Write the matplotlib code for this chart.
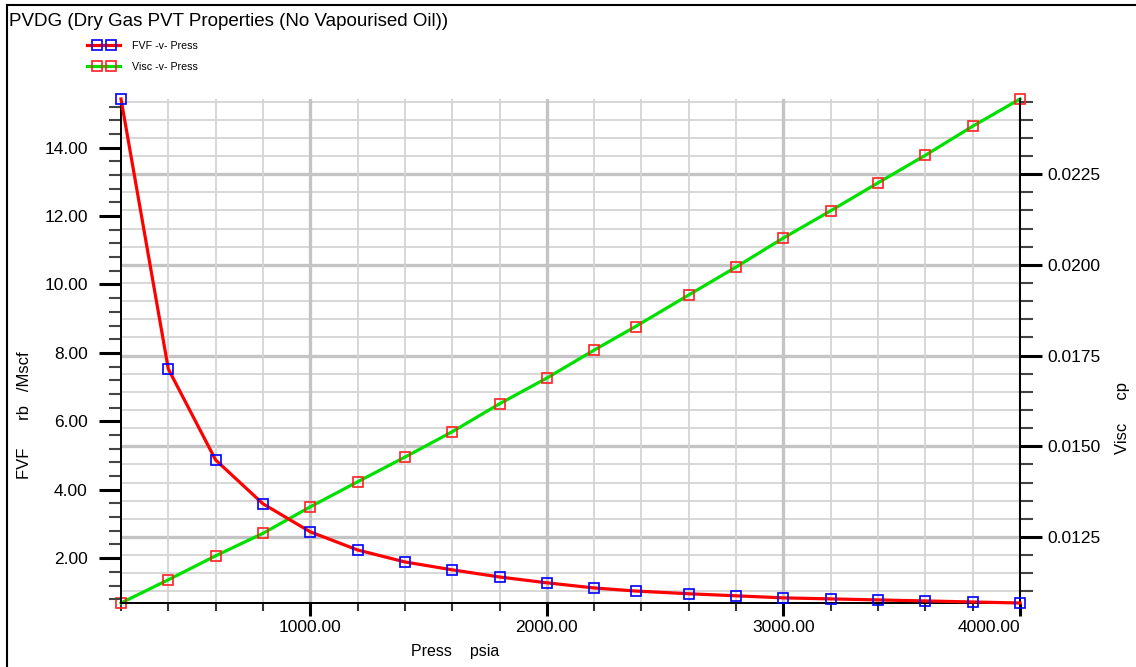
import numpy as np
import matplotlib
matplotlib.use('Agg')
import matplotlib.pyplot as plt
from matplotlib.lines import Line2D
from matplotlib.legend_handler import HandlerLine2D, HandlerTuple

plt.rcParams['font.family'] = ['Liberation Sans', 'DejaVu Sans']

# data
press = [200, 400, 600, 800, 1000, 1200, 1400, 1600, 1800, 2000,
         2200, 2375, 2600, 2800, 3000, 3200, 3400, 3600, 3800, 4000]
fvf = [15.42, 7.53, 4.87, 3.59, 2.77, 2.24, 1.89, 1.66, 1.45, 1.28,
       1.13, 1.04, 0.96, 0.90, 0.84, 0.81, 0.78, 0.75, 0.72, 0.69]
visc = [0.01068, 0.01132, 0.01198, 0.01260, 0.01333, 0.01402, 0.01470, 0.01540, 0.01617, 0.01688,
        0.01765, 0.01830, 0.01917, 0.01994, 0.02074, 0.02149, 0.02226, 0.02302, 0.02382, 0.02457]

x_major = [1000, 2000, 3000, 4000]
x_labels = ['1000.00', '2000.00', '3000.00', '4000.00']
fvf_major = [2, 4, 6, 8, 10, 12, 14]
fvf_labels = ['2.00', '4.00', '6.00', '8.00', '10.00', '12.00', '14.00']
visc_major = [0.0125, 0.0150, 0.0175, 0.0200, 0.0225]
visc_labels = ['0.0125', '0.0150', '0.0175', '0.0200', '0.0225']

fvf_style = dict(color='#ff0000', mec='#0000ff')
visc_style = dict(color='#00e000', mec='#ff2020')

fig = plt.figure(figsize=(11.36, 6.67), dpi=100)
ax2 = fig.add_axes([121/1136, 1 - 603/667, 899/1136, 504/667])
ax = ax2.twinx()  # FVF axis drawn on top, its y axis moved to the left
ax.yaxis.tick_left()
ax.yaxis.set_label_position('left')
ax2.yaxis.tick_right()
ax2.yaxis.set_label_position('right')
ax.patch.set_visible(False)

ax.set_xlim(min(press), max(press))
ax.set_ylim(min(fvf), max(fvf))
ax2.set_ylim(min(visc), max(visc))

# grid: horizontal lines follow the viscosity ticks, vertical lines the pressure ticks
x_minor = np.arange(200, 4001, 200)
visc_minor = np.arange(0.0110, 0.02451, 0.0005)
for v in visc_minor:
    major = any(abs(v - m) < 1e-7 for m in visc_major)
    ax2.axhline(v, color='#c4c4c4' if major else '#d4d4d4', lw=2.4 if major else 1.3, zorder=0)
for p in x_minor:
    major = p in x_major
    ax2.axvline(p, color='#c4c4c4' if major else '#d4d4d4', lw=2.4 if major else 1.3, zorder=0)

ax2.plot(press, visc, lw=2.3, marker='s', ms=7, mfc='none', mew=1.2, zorder=3,
         clip_on=False, **visc_style)
ax.plot(press, fvf, lw=2.3, marker='s', ms=7, mfc='none', mew=1.2, zorder=3,
        clip_on=False, **fvf_style)

for a in (ax, ax2):
    a.spines['top'].set_visible(False)
    for s in ('left', 'right', 'bottom'):
        a.spines[s].set_linewidth(1.4)

# pressure axis
ax2.set_xticks(x_major)
ax2.set_xticklabels(x_labels, fontsize=12.5)
ax2.set_xticks(x_minor, minor=True)
ax2.tick_params(axis='x', which='major', length=9, width=2.2, pad=3, color='black')
ax2.tick_params(axis='x', which='minor', length=6, width=1.5, color='#333333')
ax2.get_xticklabels()[-1].set_ha('right')
ax.tick_params(axis='x', which='both', bottom=False, labelbottom=False, top=False, labeltop=False)

# FVF axis
ax.set_yticks(fvf_major)
ax.set_yticklabels(fvf_labels, fontsize=12.5)
ax.set_yticks(np.arange(0.8, 15.3, 0.4), minor=True)
ax.tick_params(axis='y', which='major', length=16, width=2.2, pad=8)
ax.tick_params(axis='y', which='minor', length=9, width=1.5, color='#444444')

# viscosity axis
ax2.set_yticks(visc_major)
ax2.set_yticklabels(visc_labels, fontsize=12.5)
ax2.set_yticks(visc_minor, minor=True)
ax2.tick_params(axis='y', which='major', length=16, width=2.2, pad=4)
ax2.tick_params(axis='y', which='minor', length=9, width=1.5, color='#444444')

ax2.set_xlabel('Press    psia', fontsize=11.5)
ax2.xaxis.set_label_coords(0.3715, -0.082)
ax.set_ylabel('FVF      rb   /Mscf', fontsize=12, va='center')
ax.yaxis.set_label_coords(-0.1068, 0.372)
ax2.set_ylabel('Visc     cp', fontsize=12, va='center', rotation=90)
ax2.yaxis.set_label_coords(1.1135, 0.368)

fig.suptitle('PVDG (Dry Gas PVT Properties (No Vapourised Oil))', x=9/1136, y=1 - 22/667,
             ha='left', va='center', fontsize=13.5)

# legend: full-width line with two markers set in from the ends
handles, hmap = [], {}
for st in (fvf_style, visc_style):
    ln = Line2D([], [], color=st['color'], lw=2.3)
    mk = Line2D([], [], ls='none', marker='s', ms=7, mfc='none', mec=st['mec'], mew=1.2)
    hmap[ln] = HandlerLine2D(marker_pad=0, numpoints=2)
    hmap[mk] = HandlerLine2D(marker_pad=0.9, numpoints=2)
    handles.append((ln, mk))
hmap[tuple] = HandlerTuple(ndivide=1)
fig.legend(handles, ['FVF -v- Press', 'Visc -v- Press'], loc='upper left',
           bbox_to_anchor=(87/1136, 1 - 41/667), bbox_transform=fig.transFigure,
           frameon=False, prop={'size': 7.7},
           handlelength=3.1, handletextpad=1.1, labelspacing=1.0,
           borderpad=0, borderaxespad=0, handler_map=hmap)

# outer frame
fig.add_artist(Line2D([7/1136, 1], [1 - 4.5/667, 1 - 4.5/667], color='black', lw=1.5,
                      transform=fig.transFigure))
fig.add_artist(Line2D([7/1136, 7/1136], [0, 1 - 4.5/667], color='black', lw=1.5,
                      transform=fig.transFigure))

fig.savefig('out.png', dpi=100)
